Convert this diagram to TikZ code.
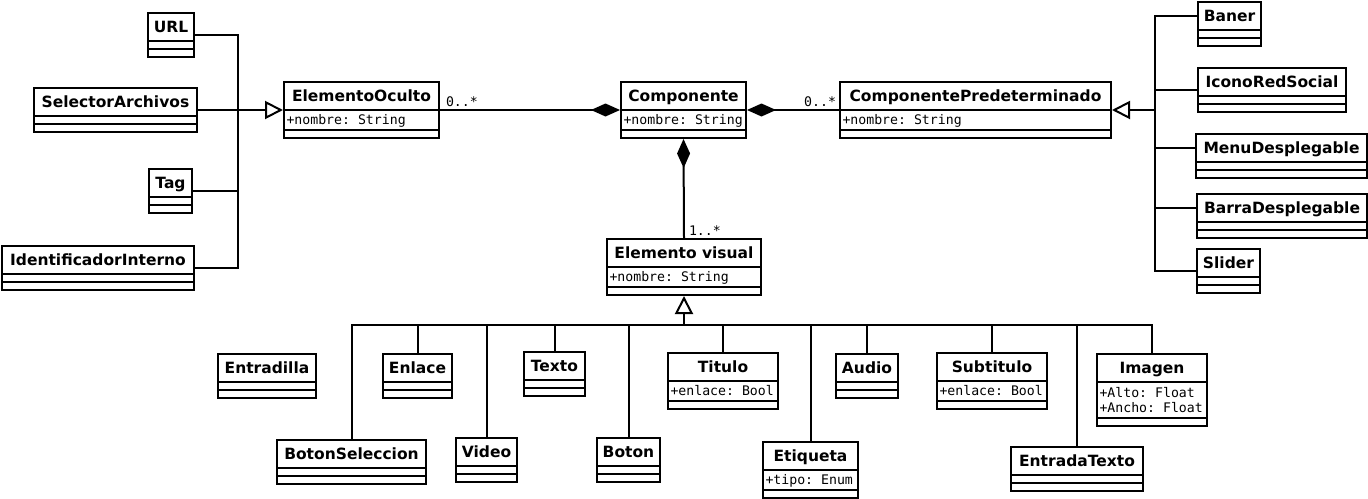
\documentclass[tikz,border=0pt]{standalone}
\usepackage{fontspec}
\setsansfont{DejaVu Sans}
\setmonofont{DejaVu Sans Mono}
\usetikzlibrary{arrows.meta, shapes.multipart}

% class compartments
\newcommand{\cname}[1]{\rule[-8pt]{0pt}{26pt}{\sffamily\bfseries\fontsize{15.5}{18}\selectfont #1}}
\newcommand{\cattr}[1]{\rule[-5pt]{0pt}{18pt}#1}
\newcommand{\cnone}{\rule{0pt}{6pt}}

\tikzset{
  umlclass/.style={draw, rectangle split, rectangle split parts=3,
    rectangle split part align={center,left,left}, inner xsep=2.5pt, inner ysep=0pt,
    minimum width=#1, anchor=north west, font=\ttfamily\fontsize{13.2}{15}\selectfont},
  mult/.style={font=\ttfamily\fontsize{13.2}{15}\selectfont, inner sep=2pt},
  gen/.style={-{Triangle[open, length=18pt, width=18pt]}},
  compo/.style={{Diamond[length=29pt, width=13pt]}-},
}

\begin{document}
\begin{tikzpicture}[x=1pt, y=-1pt, line width=2pt, line join=miter]

    \useasboundingbox (0,0) rectangle (1368,498);

    % 1. Central row
    \node[umlclass=155pt] (oculto) at (283,81)
        {\cname{ElementoOculto}\nodepart{two}\cattr{+nombre: String}\nodepart{three}\cnone};
    \node[umlclass=125pt] (comp) at (620,81)
        {\cname{Componente}\nodepart{two}\cattr{+nombre: String}\nodepart{three}\cnone};
    \node[umlclass=271pt] (compred) at (839,81)
        {\cname{ComponentePredeterminado}\nodepart{two}\cattr{+nombre: String}\nodepart{three}\cnone};
    \node[umlclass=154pt] (visual) at (606,238)
        {\cname{Elemento visual}\nodepart{two}\cattr{+nombre: String}\nodepart{three}\cnone};

    % 2. Left children
    \node[umlclass=46pt]  (url)   at (147,12)  {\cname{URL}\nodepart{two}\cnone\nodepart{three}\cnone};
    \node[umlclass=163pt] (sel)   at (33,87)   {\cname{SelectorArchivos}\nodepart{two}\cnone\nodepart{three}\cnone};
    \node[umlclass=43pt]  (tag)   at (148,168) {\cname{Tag}\nodepart{two}\cnone\nodepart{three}\cnone};
    \node[umlclass=192pt] (ident) at (1,245)   {\cname{IdentificadorInterno}\nodepart{two}\cnone\nodepart{three}\cnone};

    % 3. Right children
    \node[umlclass=63pt]  (baner)  at (1197,1)   {\cname{Baner}\nodepart{two}\cnone\nodepart{three}\cnone};
    \node[umlclass=148pt] (icono)  at (1197,67)  {\cname{IconoRedSocial}\nodepart{two}\cnone\nodepart{three}\cnone};
    \node[umlclass=171pt] (menu)   at (1195,133) {\cname{MenuDesplegable}\nodepart{two}\cnone\nodepart{three}\cnone};
    \node[umlclass=170pt] (barra)  at (1196,193) {\cname{BarraDesplegable}\nodepart{two}\cnone\nodepart{three}\cnone};
    \node[umlclass=63pt]  (slider) at (1196,248) {\cname{Slider}\nodepart{two}\cnone\nodepart{three}\cnone};

    % 4. Visual elements
    \node[umlclass=98pt]  (entradilla) at (217,353) {\cname{Entradilla}\nodepart{two}\cnone\nodepart{three}\cnone};
    \node[umlclass=69pt]  (enlace)     at (382,353) {\cname{Enlace}\nodepart{two}\cnone\nodepart{three}\cnone};
    \node[umlclass=149pt] (botonsel)   at (276,439) {\cname{BotonSeleccion}\nodepart{two}\cnone\nodepart{three}\cnone};
    \node[umlclass=61pt]  (video)      at (455,437) {\cname{Video}\nodepart{two}\cnone\nodepart{three}\cnone};
    \node[umlclass=61pt]  (texto)      at (523,351) {\cname{Texto}\nodepart{two}\cnone\nodepart{three}\cnone};
    \node[umlclass=63pt]  (boton)      at (596,437) {\cname{Boton}\nodepart{two}\cnone\nodepart{three}\cnone};
    \node[umlclass=110pt] (titulo)     at (667,352)
        {\cname{Titulo}\nodepart{two}\cattr{+enlace: Bool}\nodepart{three}\cnone};
    \node[umlclass=95pt]  (etiqueta)   at (762,441)
        {\cname{Etiqueta}\nodepart{two}\cattr{+tipo: Enum}\nodepart{three}\cnone};
    \node[umlclass=62pt]  (audio)      at (835,353) {\cname{Audio}\nodepart{two}\cnone\nodepart{three}\cnone};
    \node[umlclass=110pt] (subtitulo)  at (936,352)
        {\cname{Subtitulo}\nodepart{two}\cattr{+enlace: Bool}\nodepart{three}\cnone};
    \node[umlclass=132pt] (entrada)    at (1010,446) {\cname{EntradaTexto}\nodepart{two}\cnone\nodepart{three}\cnone};
    \node[umlclass=110pt] (imagen)     at (1096,353)
        {\cname{Imagen}\nodepart{two}\vbox{\offinterlineskip
            \hbox{\rule[-1pt]{0pt}{15pt}+Alto: Float}
            \hbox{\rule[-5pt]{0pt}{19pt}+Ancho: Float}}\nodepart{three}\cnone};

    % 5. Compositions
    \draw[compo] (comp.west) -- (oculto.east)
        node[mult, pos=1, anchor=south west, xshift=3pt] {0..*};
    \draw[compo] (comp.east) -- (compred.west)
        node[mult, pos=1, anchor=south east] {0..*};
    \draw[compo] (comp.south) -- (visual.north)
        node[mult, pos=1, anchor=south west, xshift=2pt] {1..*};

    % 6. Generalizations, left
    \coordinate (ljoin) at ([xshift=-45pt]oculto.west);
    \draw (url.east) -| (ljoin);
    \draw (tag.east) -| (ljoin);
    \draw (ident.east) -| (ljoin);
    \draw (sel.east) -- (ljoin);
    \draw[gen] (ljoin) -- (oculto.west);

    % 7. Generalizations, right
    \coordinate (rjoin) at ([xshift=43pt]compred.east);
    \draw ([yshift=8pt]baner.west) -| (rjoin);
    \draw (icono.west) -| (rjoin);
    \draw ([yshift=8pt]menu.west) -| (rjoin);
    \draw ([yshift=8pt]barra.west) -| (rjoin);
    \draw (slider.west) -| (rjoin);
    \draw[gen] (rjoin) -- (compred.east);

    % 8. Generalizations, bottom
    \coordinate (bjoin) at ([yshift=-29pt]visual.south);
    \draw (botonsel.north) |- (bjoin);
    \draw (enlace.north) |- (bjoin);
    \draw (video.north) |- (bjoin);
    \draw (texto.north) |- (bjoin);
    \draw (boton.north) |- (bjoin);
    \draw (titulo.north) |- (bjoin);
    \draw (etiqueta.north) |- (bjoin);
    \draw (audio.north) |- (bjoin);
    \draw (subtitulo.north) |- (bjoin);
    \draw (entrada.north) |- (bjoin);
    \draw (imagen.north) |- (bjoin);
    \draw[gen] (bjoin) -- (visual.south);

\end{tikzpicture}
\end{document}
